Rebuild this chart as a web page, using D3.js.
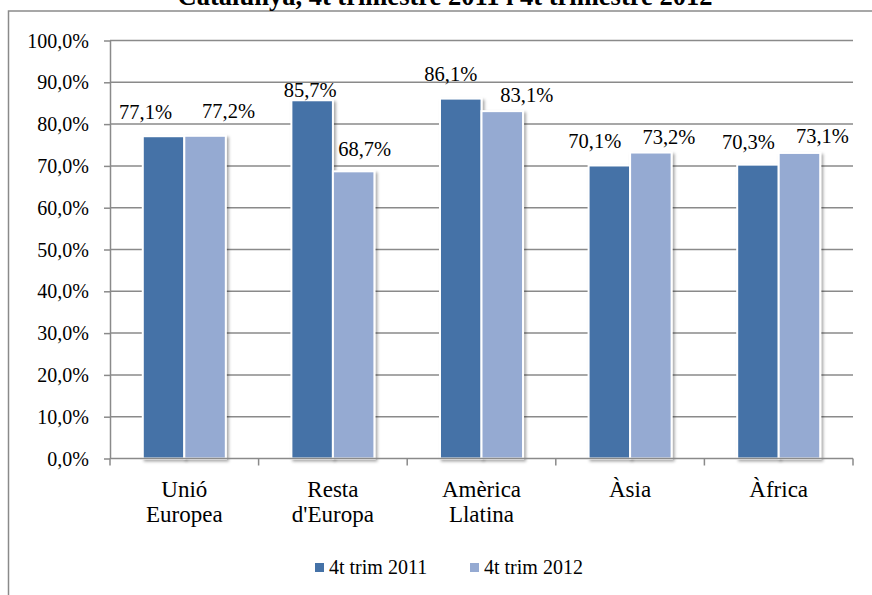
<!DOCTYPE html>
<html>
<head>
<meta charset="utf-8">
<script src="https://cdn.jsdelivr.net/npm/d3@7"></script>
<style>
  html, body { margin: 0; padding: 0; background: #fff; }
  svg { display: block; }
  svg text { font-family: "Liberation Serif", "Times New Roman", "DejaVu Serif", serif !important; fill: #000; }
</style>
</head>
<body>
<svg id="chart" width="872" height="595" font-family="Liberation Serif"></svg>
<script>
// ---- data ----
const titleText = "Catalunya, 4t trimestre 2011 i 4t trimestre 2012";
const categories = ["Unió Europea", "Resta d'Europa", "Amèrica Llatina", "Àsia", "Àfrica"];
const categoryLines = [["Unió", "Europea"], ["Resta", "d'Europa"], ["Amèrica", "Llatina"], ["Àsia"], ["Àfrica"]];
const seriesNames = ["4t trim 2011", "4t trim 2012"];
const values2011 = [77.1, 85.7, 86.1, 70.1, 70.3];
const values2012 = [77.2, 68.7, 83.1, 73.2, 73.1];
const yTicks = [0, 10, 20, 30, 40, 50, 60, 70, 80, 90, 100];

// ---- layout / style (label nudges as placed in the original) ----
const labelDx = [[-18, -2, -10, -14.5, -9.5], [23.5, 11, 24.5, 18, 23]];
const labelLift = [[17, 3, 17.5, 17.5, 16], [17.5, 15, 9.5, 9, 9.7]];
const colors = ["#4572a7", "#95aad2"];
const gridColor = "#8a8a8a";
const serif = "'Liberation Serif', 'Times New Roman', serif";

const fmt = v => v.toFixed(1).replace(".", ",") + "%";

const svg = d3.select("#chart");
const defs = svg.append("defs");
const f = defs.append("filter").attr("id", "shadow").attr("x", "-20%").attr("y", "-20%").attr("width", "150%").attr("height", "150%");
f.append("feDropShadow").attr("dx", 2).attr("dy", 2).attr("stdDeviation", 1.5).attr("flood-color", "#000").attr("flood-opacity", 0.35);

// outer frame
svg.append("rect").attr("x", 8.5).attr("y", 11).attr("width", 900).attr("height", 620)
  .attr("fill", "none").attr("stroke", gridColor).attr("stroke-width", 1.5);

// title (partly cropped at the top, as in the original)
svg.append("text").attr("x", 445).attr("y", 5).attr("text-anchor", "middle")
  .style("font-size", "26.5px").style("font-weight", "bold").style("font-family", serif).text(titleText);

const plot = { left: 110, right: 853, top: 40.5, bottom: 458.5 };

const y = d3.scaleLinear().domain([0, 100]).range([plot.bottom, plot.top]);
const x0 = d3.scaleBand().domain(categories).range([plot.left, plot.right]).padding(0);
const x1 = d3.scaleBand().domain(seriesNames).range([0, x0.bandwidth()]).paddingInner(0).paddingOuter(0.79);

// gridlines
svg.append("g").selectAll("line").data(yTicks.filter(t => t > 0)).join("line")
  .attr("x1", plot.left).attr("x2", plot.right)
  .attr("y1", d => y(d)).attr("y2", d => y(d))
  .attr("stroke", gridColor).attr("stroke-width", 1.5);

// y axis
const yAxis = d3.axisLeft(y).tickValues(yTicks).tickSize(6).tickSizeOuter(0).tickPadding(15).tickFormat(fmt);
const gy = svg.append("g").attr("transform", `translate(${plot.left},0)`).call(yAxis)
  .attr("font-family", null).attr("font-size", null);
gy.select(".domain").attr("stroke", gridColor).attr("stroke-width", 1.5);
gy.selectAll(".tick line").attr("stroke", gridColor).attr("stroke-width", 1.5);
gy.selectAll(".tick text").style("font-size", "20px").style("font-family", serif).attr("dy", "0.33em");

// bars
const seriesData = [values2011, values2012];
seriesData.forEach((vals, si) => {
  svg.append("g").selectAll("rect").data(vals).join("rect")
    .attr("x", (d, i) => x0(categories[i]) + x1(seriesNames[si]))
    .attr("y", d => y(d))
    .attr("width", x1.bandwidth())
    .attr("height", d => y(0) - y(d))
    .attr("fill", colors[si])
    .attr("stroke", "#fff").attr("stroke-width", 2)
    .attr("filter", "url(#shadow)");
});

// x axis
const gx = svg.append("g").attr("transform", `translate(0,${plot.bottom})`);
gx.append("line").attr("x1", plot.left).attr("x2", plot.right).attr("stroke", gridColor).attr("stroke-width", 1.5);
const bounds = categories.map(c => x0(c)).concat([x0(categories[categories.length - 1]) + x0.bandwidth()]);
gx.selectAll("line.tk").data(bounds).join("line").attr("class", "tk")
  .attr("x1", d => d).attr("x2", d => d).attr("y1", 0).attr("y2", 7)
  .attr("stroke", gridColor).attr("stroke-width", 1.5);

// category labels
categories.forEach((c, i) => {
  const t = svg.append("text").attr("text-anchor", "middle").style("font-size", "23px").style("font-family", serif)
    .attr("x", x0(c) + x0.bandwidth() / 2).attr("y", 497);
  categoryLines[i].forEach((ln, li) => {
    t.append("tspan").attr("x", x0(c) + x0.bandwidth() / 2).attr("dy", li === 0 ? 0 : 25).text(ln);
  });
});

// value labels
seriesData.forEach((vals, si) => {
  svg.append("g").selectAll("text").data(vals).join("text")
    .attr("text-anchor", "middle").style("font-size", "20.5px").style("font-family", serif)
    .attr("x", (d, i) => x0(categories[i]) + x1(seriesNames[si]) + x1.bandwidth() / 2 + labelDx[si][i])
    .attr("y", (d, i) => y(d) - labelLift[si][i])
    .text(d => fmt(d));
});

// legend
const legendX = [315, 470];
seriesNames.forEach((s, si) => {
  svg.append("rect").attr("x", legendX[si]).attr("y", 563).attr("width", 9).attr("height", 9).attr("fill", colors[si]);
  svg.append("text").attr("x", legendX[si] + 14).attr("y", 574).style("font-size", "20px").style("font-family", serif).text(s);
});
</script>
</body>
</html>
